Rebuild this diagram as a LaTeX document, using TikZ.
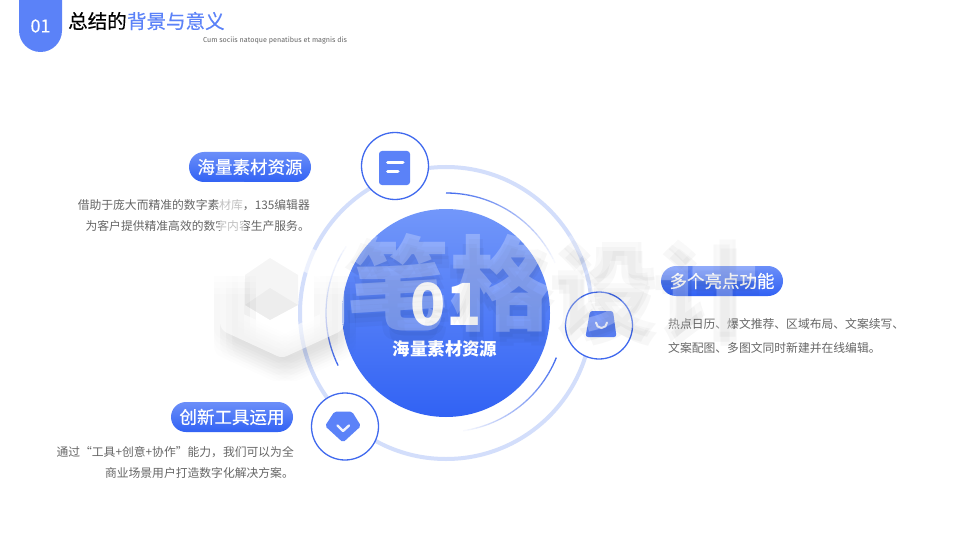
\documentclass[tikz,border=0pt]{standalone}
\usepackage{fontspec}
\setmainfont{Noto Sans CJK SC}
\newfontfamily\latinfont{Fira Sans}
\newfontfamily\mediumfont[FakeBold=0.35]{Noto Sans CJK SC}
\usetikzlibrary{positioning}

\definecolor{iconblue}{HTML}{5B82F8}
\definecolor{deepblue}{HTML}{3162F4}
\definecolor{edgeblue}{HTML}{4069EE}
\definecolor{ringblue}{HTML}{D3DEFB}
\definecolor{bodygray}{HTML}{666666}
\definecolor{circletop}{HTML}{7297FA}
\definecolor{circlemid}{HTML}{4C6FDE}

\tikzset{
	pill/.style={rounded corners=15pt, minimum width=122pt, minimum height=30pt, inner sep=0pt, top color=iconblue!90!white, bottom color=deepblue, text=white, font=\mediumfont\fontsize{17.5}{17.5}\selectfont},
	iconring/.style={circle, draw=edgeblue, line width=1.3pt, fill=white, minimum size=67pt, inner sep=0pt},
	bodytext/.style={text=bodygray, inner sep=0pt},
	thinarc/.style={edgeblue, line width=1.3pt},
	iconbar/.style={white, line width=3pt, line cap=round},
	stampshadow/.style={inner sep=0pt, text=black, text opacity=.03, font=\fontsize{103}{103}\selectfont\bfseries},
}

% an arc round the big circle that dies away towards its end
\newcommand{\fadearc}[3]{
	\foreach \i in {0,...,29} {
		\pgfmathsetmacro{\fromangle}{#2+(#3-#2)*\i/30}
		\pgfmathsetmacro{\toangle}{#2+(#3-#2)*(\i+1)/30}
		\pgfmathsetmacro{\arcfade}{max(0,1-\i/28)}
		\draw [thinarc, opacity=\arcfade] ([shift={(ringcenter)}]\fromangle:#1) arc [start angle=\fromangle, end angle=\toangle, radius=#1];
	}
}

\begin{document}
\begin{tikzpicture}[x=1pt, y=-1pt]
	\useasboundingbox [fill=white] (0,0) rectangle (960,540);
	\coordinate (ringcenter) at (446,313);

	% header
	\fill [iconblue] (19,0) -- (62,0) -- (62,30.5) arc [start angle=0, end angle=180, radius=21.5] -- cycle;
	\node (tabnumber) [text=white, inner sep=0pt, font=\mediumfont\fontsize{18}{18}\selectfont] at (40.5,26) {01};
	\node (titleblack) [anchor=west, inner sep=0pt, font=\mediumfont\fontsize{19.5}{19.5}\selectfont] at (68,21) {总结的};
	\node (titleblue) [right=0pt of titleblack, inner sep=0pt, text=iconblue, font=\mediumfont\fontsize{19.5}{19.5}\selectfont] {背景与意义};
	\node (subtitle) [anchor=west, inner sep=0pt, text=bodygray, font=\latinfont\fontsize{7.2}{7.2}\selectfont] at (203,40.5) {Cum sociis natoque penatibus et magnis dis};

	% rings and big circle
	\draw [ringblue, line width=4pt] (ringcenter) circle [radius=146];
	\fadearc{120}{-90}{-20}
	\fadearc{120}{154}{218}
	\fadearc{119}{22}{86}
	\node (bigcircle) [circle, minimum size=208pt, inner sep=0pt, top color=circletop, middle color=circlemid, bottom color=deepblue] at (ringcenter) {};
	\node (bignumber) [text=white, inner sep=0pt, font=\fontsize{58}{58}\selectfont\bfseries] at (446,304) {01};
	\node (bigtitle) [text=white, inner sep=0pt, font=\fontsize{17.4}{17.4}\selectfont\bfseries] at (445,349) {海量素材资源};

	% the three icons
	\node (topring) [iconring] at (395,166) {};
	\fill [iconblue, rounded corners=3pt] (379,151) rectangle (410,185);
	\draw [iconbar] (387.5,163) -- (403,163);
	\draw [iconbar] (387.5,172) -- (398,172);

	\node (rightring) [iconring] at (599,325.5) {};
	\fill [iconblue, rounded corners=2.5pt] (590,311) -- (613,311) -- (616.5,337) -- (585.5,337) -- cycle;
	\draw [white!85!iconblue, line width=2pt, line cap=round] (596,322.5) arc [start angle=180, end angle=0, radius=5.5];

	\node (leftring) [iconring] at (345,426.5) {};
	\fill [iconblue, rounded corners=2pt] (334.5,411.5) -- (352,411.5) -- (361,426) -- (343,442.5) -- (325,426) -- cycle;
	\draw [white!90!iconblue, line width=2.4pt, line cap=round, line join=round] (337.5,425.5) -- (343,431) -- (349,425.5);

	% labels
	\node (pillone) [pill] at (250,167) {海量素材资源};
	\node (bodyone) [bodytext, anchor=north east, align=right, font=\fontsize{11.8}{21}\selectfont] at (310,199.5) {借助于庞大而精准的数字素材库，135编辑器\\为客户提供精准高效的数字内容生产服务。\hspace{4pt}};
	\node (pilltwo) [pill] at (722,281) {多个亮点功能};
	\node (bodytwo) [bodytext, anchor=north west, align=left, font=\fontsize{11.8}{24}\selectfont] at (668,318) {热点日历、爆文推荐、区域布局、文案续写、\\文案配图、多图文同时新建并在线编辑。};
	\node (pillthree) [pill] at (232,417) {创新工具运用};
	\node (bodythree) [bodytext, anchor=north east, align=right, font=\fontsize{11.8}{20.5}\selectfont] at (294,446.5) {通过“工具+创意+协作”能力，我们可以为全\\商业场景用户打造数字化解决方案。\hspace{7pt}};

	% faint stamp lying over everything
	\foreach \dx in {-6,0,6,12} {
		\foreach \dy in {6,12,18,24} {
			\draw [black, opacity=.008, line width=24pt, line join=round] (232+\dx,270+\dy) -- (232+\dx,322+\dy) -- (282+\dx,345+\dy) -- (332+\dx,322+\dy) -- (332+\dx,270+\dy);
		}
	}
	\draw [white, opacity=.6, line width=24pt, line join=round] (232,182) -- (232,322) -- (282,345) -- (332,322) -- (332,272) -- (282,247) -- (232,272);
	\fill [black, opacity=.04] (270,258) -- (298,275) -- (298,305) -- (270,320) -- (245,305) -- (245,275) -- cycle;
	\fill [black, opacity=.03] (245,305) -- (270,288) -- (298,305) -- (270,320) -- cycle;
	\node (stampshadowa) [stampshadow] at (555,288) {笔格设计};
	\node (stampshadowb) [stampshadow] at (549,293) {笔格设计};
	\node (stampshadowc) [stampshadow] at (556,297) {笔格设计};
	\node (stamp) [inner sep=0pt, text=white, text opacity=.26, font=\fontsize{103}{103}\selectfont\bfseries] at (552,283) {笔格设计};
\end{tikzpicture}
\end{document}
